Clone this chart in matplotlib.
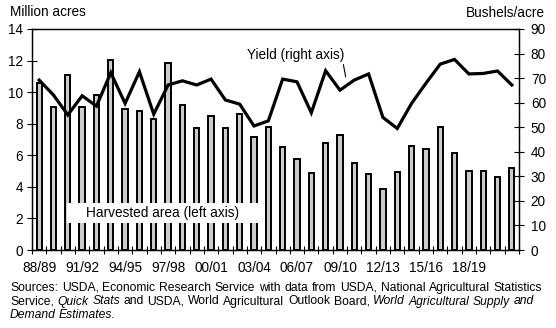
import numpy as np
import matplotlib
matplotlib.use('Agg')
import matplotlib.pyplot as plt
from matplotlib.patches import Rectangle

plt.rcParams['font.family'] = ['Liberation Sans', 'DejaVu Sans']

# marketing years 1988/89 .. 2021/22
years = ['%02d/%02d' % (y % 100, (y + 1) % 100) for y in range(1988, 2022)]
area = [10.55, 9.04, 11.08, 9.08, 9.82, 12.03, 8.91, 8.82, 8.28, 11.82,
        9.16, 7.71, 8.50, 7.71, 8.59, 7.13, 7.80, 6.50, 5.74, 4.90,
        6.76, 7.30, 5.49, 4.79, 3.86, 4.96, 6.59, 6.38, 7.81, 6.16,
        5.02, 5.02, 4.64, 5.17]
yld = [69.2, 63.1, 55.0, 62.8, 58.6, 72.2, 59.7, 72.6, 55.3, 67.2,
       68.9, 67.2, 69.6, 61.1, 59.4, 50.5, 52.6, 69.6, 68.5, 55.9,
       73.0, 65.1, 69.2, 71.7, 54.0, 49.5, 59.7, 67.9, 75.7, 77.6,
       71.7, 71.9, 72.9, 67.2]
tick_idx = list(range(0, 31, 3))

W, H = 556, 328
fig = plt.figure(figsize=(W / 100, H / 100), dpi=100)
ax = fig.add_axes([32 / W, 1 - 250 / H, (519 - 32) / W, (250 - 29) / H])
ax2 = ax.twinx()

x = np.arange(len(years))
ax.bar(x, area, width=0.37, color='#cccccc', edgecolor='black', linewidth=1.4, zorder=2)
ax2.plot(x, yld, color='black', linewidth=2.3, solid_joinstyle='miter', zorder=3)

ax.set_xlim(-0.42, len(years) - 0.51)
ax.set_ylim(0, 14)
ax2.set_ylim(0, 90)
ax.set_yticks(range(0, 15, 2))
ax2.set_yticks(range(0, 91, 10))

ax.set_xticks(tick_idx)
ax.set_xticklabels([years[i] for i in tick_idx])
ax.set_xticks(np.arange(-0.5, len(years)), minor=True)
ax.tick_params(axis='x', which='major', length=0, pad=8, labelsize=9.8)
ax.tick_params(axis='x', which='minor', direction='inout', length=6, width=0.8)
ax.tick_params(axis='y', direction='inout', length=7, width=0.8, labelsize=9.8, pad=3)
ax2.tick_params(axis='y', direction='inout', length=7, width=0.8, labelsize=9.8, pad=5)

for a in (ax, ax2):
    for s in a.spines.values():
        s.set_linewidth(0.9)

fig.text(10 / W, 1 - 12 / H, 'Million acres', fontsize=9.8, va='center', ha='left')
fig.text(545 / W, 1 - 13 / H, 'Bushels/acre', fontsize=9.8, va='center', ha='right')

# white label box over the bars
fig.patches.append(Rectangle((67 / W, 1 - 223 / H), 191 / W, 20 / H, transform=fig.transFigure,
                             facecolor='white', edgecolor='none', zorder=10))
fig.text(86 / W, 1 - 213 / H, 'Harvested area (left axis)', fontsize=9.8,
         ha='left', va='center', zorder=11)
ax2.annotate('Yield (right axis)', xy=(21.4, 70.5), xytext=(21.3, 79.5),
             fontsize=9.8, ha='right', va='center',
             arrowprops=dict(arrowstyle='-', color='black', lw=0.8,
                             shrinkA=0, shrinkB=0, relpos=(0.98, 0.2)))

# source note, set word by word so lines 1-2 can be justified
lines = [
    ([('Sources:', 'normal'), ('USDA,', 'normal'), ('Economic', 'normal'), ('Research', 'normal'),
      ('Service', 'normal'), ('with', 'normal'), ('data', 'normal'), ('from', 'normal'),
      ('USDA,', 'normal'), ('National', 'normal'), ('Agricultural', 'normal'),
      ('Statistics', 'normal')], 542),
    ([('Service,', 'normal'), ('Quick', 'italic'), ('Stats', 'italic'), ('and', 'normal'),
      ('USDA,', 'normal'), ('World', 'normal'), ('Agricultural', 'normal'), ('Outlook', 'normal'),
      ('Board,', 'normal'), ('World', 'italic'), ('Agricultural', 'italic'), ('Supply', 'italic'),
      ('and', 'italic')], 534),
    ([('Demand', 'italic'), ('Estimates.', 'italic')], None),
]
renderer = fig.canvas.get_renderer()
fs = 8.7
x0 = 10
for i, (words, xend) in enumerate(lines):
    yc = 1 - (288 + 13.5 * i) / H
    ts = [fig.text(0, yc, w, fontsize=fs, style=st, va='center', ha='left') for w, st in words]
    widths = [t.get_window_extent(renderer).width for t in ts]
    if xend is None:
        gap = 3.0
    else:
        gap = (xend - x0 - sum(widths)) / (len(ts) - 1)
    xp = x0
    for t, w in zip(ts, widths):
        t.set_x(xp / W)
        xp += w + gap

fig.savefig('out.png', dpi=100)
